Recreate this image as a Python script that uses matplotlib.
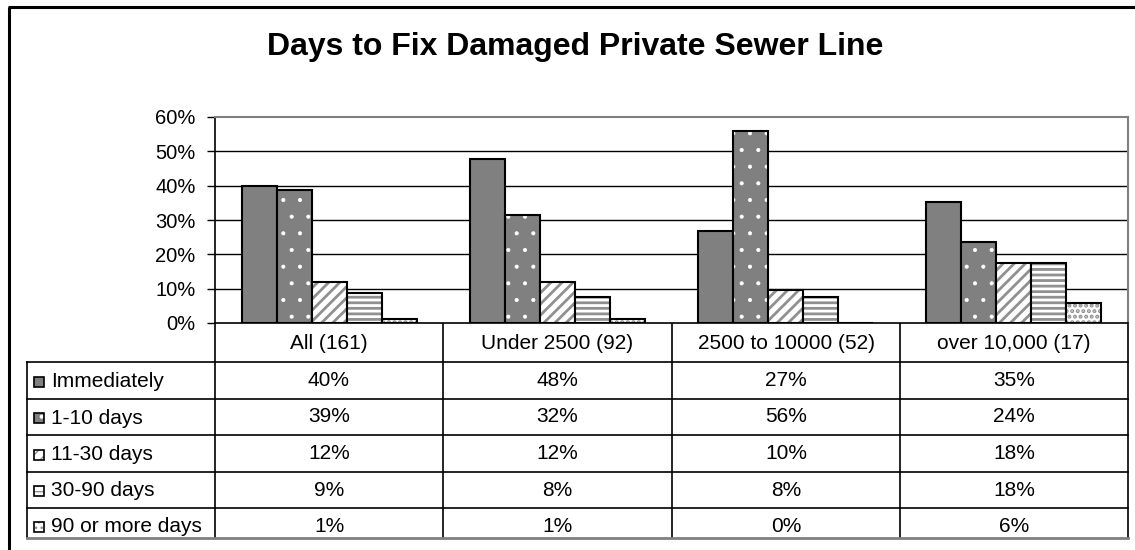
import matplotlib
matplotlib.use("Agg")
import matplotlib.pyplot as plt
from matplotlib.patches import Rectangle
from matplotlib.ticker import FuncFormatter

plt.rcParams['font.family'] = ['Liberation Sans', 'DejaVu Sans']

# data
groups = ["All (161)", "Under 2500 (92)", "2500 to 10000 (52)", "over 10,000 (17)"]
series = ["Immediately", "1-10 days", "11-30 days", "30-90 days", "90 or more days"]
immediately = [39.8, 47.8, 26.9, 35.3]
days_1_10 = [38.6, 31.5, 55.8, 23.6]
days_11_30 = [11.8, 12.0, 9.6, 17.6]
days_30_90 = [8.7, 7.6, 7.7, 17.6]
days_90_plus = [1.2, 1.1, 0.0, 5.9]
values = [immediately, days_1_10, days_11_30, days_30_90, days_90_plus]
yticks = [0, 10, 20, 30, 40, 50, 60]

# styles: face, hatch, hatch colour, hatch linewidth
styles = [
    ("#808080", None, None, 1.0),
    ("#808080", ".", "white", 0.5),
    ("white", "///", "#909090", 2.0),
    ("white", "---", "#909090", 2.0),
    ("white", "...", "#909090", 2.0),
]

W, H = 1135, 550
fig = plt.figure(figsize=(W / 100, H / 100), dpi=100)

# overlay axes in pixel coordinates for the frame and the data table
bg = fig.add_axes([0, 0, 1, 1])
bg.set_xlim(0, W)
bg.set_ylim(H, 0)
bg.axis("off")

# plot area
L, R, T, B = 215, 1128, 117, 323
ax = fig.add_axes([L / W, 1 - B / H, (R - L) / W, (B - T) / H])


def draw_bar(axis, x, h, w, style, **kw):
    face, hatch, hcol, hlw = style
    plt.rcParams['hatch.linewidth'] = hlw
    if hatch:
        axis.bar(x, h, w, color=face, hatch=hatch, edgecolor=hcol, linewidth=0, **kw)
    else:
        axis.bar(x, h, w, color=face, linewidth=0, **kw)
    axis.bar(x, h, w, fill=False, edgecolor="black", linewidth=1.5, **kw)


bw = 35 / 228
xs = list(range(len(groups)))
for i, (vals, st) in enumerate(zip(values, styles)):
    pos = [x + (i - 2) * bw for x in xs]
    draw_bar(ax, pos, vals, bw, st, zorder=3)

ax.set_xlim(-0.5, len(groups) - 0.5)
ax.set_ylim(0, 60)
ax.set_yticks(yticks)
ax.yaxis.set_major_formatter(FuncFormatter(lambda v, p: f"{v:.0f}%"))
ax.tick_params(axis="y", length=6, width=1, labelsize=14.5, pad=8, direction="out")
ax.set_xticks([])
for y in yticks[1:-1]:
    ax.axhline(y, color="black", linewidth=1, zorder=1)
ax.spines["top"].set_color("#808080")
ax.spines["right"].set_color("#808080")
ax.spines["top"].set_linewidth(1.5)
ax.spines["right"].set_linewidth(1.5)
ax.spines["left"].set_linewidth(1.2)
ax.spines["bottom"].set_linewidth(1.2)

# title
bg.text(575, 47, "Days to Fix Damaged Private Sewer Line", ha="center", va="center",
        fontsize=23, fontweight="bold")

# outer frame (left and top edges visible)
bg.plot([9, 9], [7, H + 5], color="black", linewidth=2.2, solid_capstyle="butt")
bg.plot([8, W + 5], [7, 7], color="black", linewidth=2.2, solid_capstyle="butt")

# data table
col_x = [215, 443, 672, 900, 1128]
row_y = [323, 362, 399, 435, 472, 508, 538]
tx0 = 27
for x in col_x:
    bg.plot([x, x], [row_y[0], row_y[-1]], color="black", linewidth=1.2)
bg.plot([tx0, tx0], [row_y[1], row_y[-1]], color="black", linewidth=1.2)
for y in row_y[1:-1]:
    bg.plot([tx0, col_x[-1]], [y, y], color="black", linewidth=1.2)
bg.plot([tx0, col_x[-1]], [row_y[-1], row_y[-1]], color="#808080", linewidth=2)

for j, g in enumerate(groups):
    cx = (col_x[j] + col_x[j + 1]) / 2
    bg.text(cx, (row_y[0] + row_y[1]) / 2 + 1, g, ha="center", va="center", fontsize=15)

for i, (name, vals, st) in enumerate(zip(series, values, styles)):
    y0, y1 = row_y[i + 1], row_y[i + 2]
    cy = (y0 + 36 / 2) if i == len(series) - 1 else (y0 + y1) / 2
    cy = min(cy, (y0 + y1) / 2 + 3)
    # legend key
    face, hatch, hcol, hlw = st
    plt.rcParams['hatch.linewidth'] = min(hlw, 1.0)
    if hatch:
        bg.add_patch(Rectangle((34, cy - 4), 10, 10, facecolor=face, hatch=hatch,
                               edgecolor=hcol, linewidth=0))
    else:
        bg.add_patch(Rectangle((34, cy - 4), 10, 10, facecolor=face, linewidth=0))
    bg.add_patch(Rectangle((34, cy - 4), 10, 10, fill=False, edgecolor="black", linewidth=1.2))
    bg.text(51, cy + 1, name, ha="left", va="center", fontsize=15)
    for j, v in enumerate(vals):
        cx = (col_x[j] + col_x[j + 1]) / 2
        bg.text(cx, cy, f"{v:.0f}%", ha="center", va="center", fontsize=15)

fig.savefig("out.png", dpi=100)
plt.close(fig)
